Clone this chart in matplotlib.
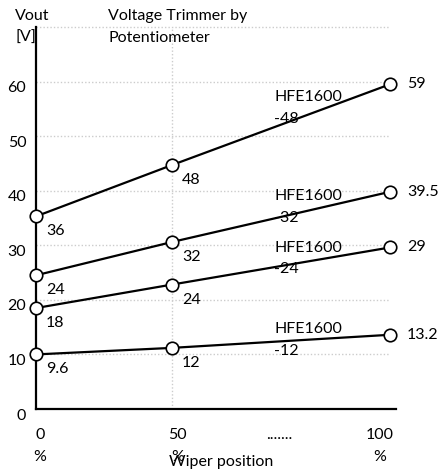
import matplotlib.pyplot as plt
from matplotlib.transforms import ScaledTranslation

plt.rcParams['font.family'] = ['Lato', 'DejaVu Sans']
plt.rcParams['font.size'] = 11.5

# wiper positions as placed on the chart (0 %, 50 %, 100 %)
wiper = [0, 38.4, 100]

# plotted values
hfe48 = [35.3, 44.7, 59.5]
hfe32 = [24.5, 30.6, 39.8]
hfe24 = [18.5, 22.8, 29.6]
hfe12 = [10.0, 11.2, 13.6]

# data labels as printed next to the markers
lab48 = ["36", "48", "59"]
lab32 = ["24", "32", "39.5"]
lab24 = ["18", "24", "29"]
lab12 = ["9.6", "12", "13.2"]

names = ["HFE1600\n-48", "HFE1600\n-32", "HFE1600\n-24", "HFE1600\n-12"]

yticks = [0, 10, 20, 30, 40, 50, 60]
xtick_pos = [1.1, 40.0, 68.6, 97.2]
xtick_lab = ["0\n%", "50\n%", ".......", "100\n%"]

LS = 1.7


def main():
    fig = plt.figure(figsize=(4.44, 4.70), dpi=100)
    ax = fig.add_axes([36/444, 61/470, 360/444, 382/470])
    ax.set_xlim(0, 101.7)
    ax.set_ylim(0, 70)

    # dotted grid
    ax.hlines([10, 20, 30, 40, 50, 60, 70], 0, 100, colors="#cccccc",
              linestyles=(0, (1, 1.5)), linewidth=1, zorder=0, clip_on=False)
    ax.vlines(wiper[1], 0, 70, colors="#cccccc",
              linestyles=(0, (1, 1.5)), linewidth=1, zorder=0, clip_on=False)

    series = [(hfe48, lab48), (hfe32, lab32), (hfe24, lab24), (hfe12, lab12)]
    name_y = [55.1, 37.0, 27.6, 12.6]
    for (vals, labs), nm, ny in zip(series, names, name_y):
        ax.plot(wiper, vals, color="black", lw=1.6, marker="o", ms=9,
                mfc="white", mec="black", mew=1.2, zorder=3, clip_on=False)
        for i, (x, v, t) in enumerate(zip(wiper, vals, labs)):
            if i < 2:
                off = (10, -15)
            else:
                off = (17, 0)
            ax.annotate(t, (x, v), xytext=off, textcoords="offset pixels",
                        ha="left", va="center")
        ax.text(67.3, ny, nm, ha="left", va="center", linespacing=LS)

    for s in ["top", "right"]:
        ax.spines[s].set_visible(False)
    for s in ["left", "bottom"]:
        ax.spines[s].set_linewidth(1.6)
        ax.spines[s].set_color("black")

    ax.set_yticks(yticks)
    ax.tick_params(axis="y", length=0, pad=7)
    for lbl in ax.get_yticklabels():
        lbl.set_transform(lbl.get_transform() + ScaledTranslation(0, -5/100, fig.dpi_scale_trans))

    ax.set_xticks(xtick_pos)
    ax.set_xticklabels(xtick_lab, linespacing=LS)
    ax.tick_params(axis="x", length=0, pad=14)

    fig.text(15/444, 1 - 27/470, "Vout\n[V]", ha="left", va="center", linespacing=LS)
    fig.text(108/444, 1 - 27/470, "Voltage Trimmer by\nPotentiometer", ha="left",
             va="center", linespacing=LS)
    fig.text(221/444, 1 - 462/470, "Wiper position", ha="center", va="center")

    fig.savefig("out.png", dpi=100)


if __name__ == "__main__":
    main()
